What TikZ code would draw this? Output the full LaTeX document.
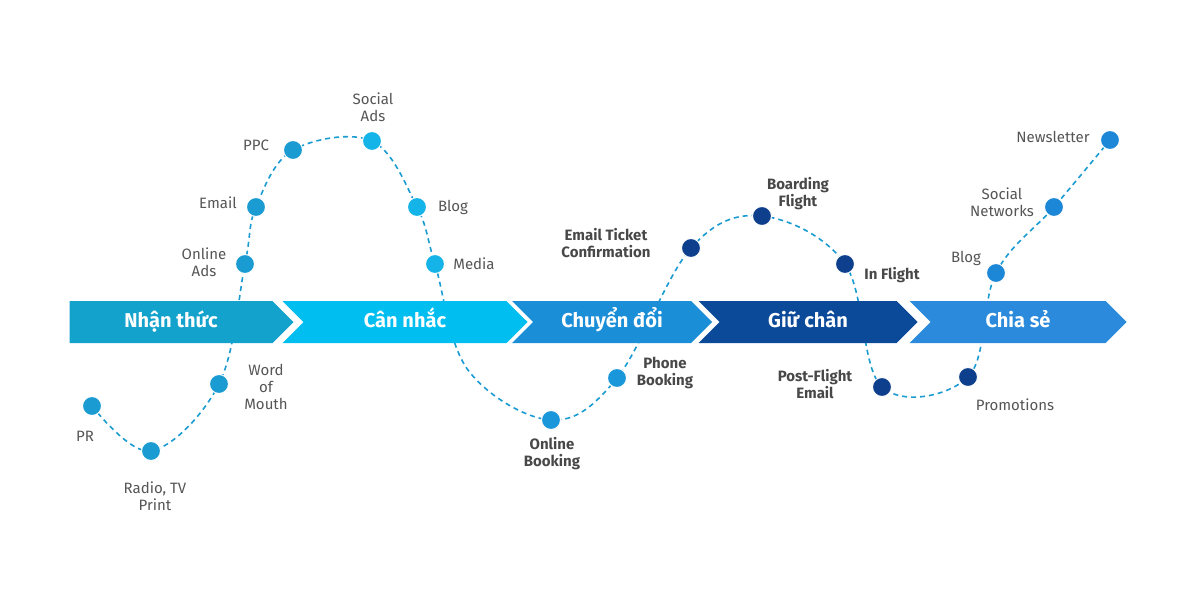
\documentclass[tikz,border=0pt]{standalone}
\usepackage{fontspec}
\setmainfont{Fira Sans}
\usetikzlibrary{shapes.symbols}
\definecolor{stageA}{HTML}{12A2CC}
\definecolor{stageB}{HTML}{00BEEF}
\definecolor{stageC}{HTML}{1B8ED8}
\definecolor{stageD}{HTML}{0B4A99}
\definecolor{stageE}{HTML}{2B8ADB}
\definecolor{dotA}{HTML}{1A9BD1}
\definecolor{dotB}{HTML}{14B4E8}
\definecolor{dotC}{HTML}{1A97DA}
\definecolor{dotD}{HTML}{0E3F8C}
\definecolor{dotE}{HTML}{1C87D6}
\definecolor{labelgrey}{HTML}{555555}
\tikzset{
  every stage/.style={shape=signal, signal to=east, signal pointer angle=90,
    minimum height=42pt, inner sep=0pt, text=white, text height=14pt, text depth=4pt,
    font=\fontsize{20}{22}\selectfont\bfseries},
  dot/.style={circle, minimum size=19pt, inner sep=0pt, draw=white, line width=1pt},
  lbl/.style={text=labelgrey, align=center, font=\fontsize{15}{17}\selectfont},
  blbl/.style={text=labelgrey!85!black, align=center, font=\fontsize{15}{17}\selectfont\bfseries},
}
\begin{document}
\begin{tikzpicture}[x=1pt, y=-1pt]
\useasboundingbox (0,0) rectangle (1200,600);

% touch points
\foreach \n/\px/\py in {pr/92/406, radio/151/451, word/219/384,
  ads/245/264, email/256/207, ppc/293/150, social/372/141,
  blog/417/207, media/435/264, online/551/420, phone/617/378,
  ticket/691/248, boarding/762/216, inflight/845/264,
  post/882/387, promo/968/377, blogb/996/273,
  networks/1054/207, news/1110/140}
\coordinate (\n) at (\px,\py);
\coordinate (dip) at (468,370);

% path
\draw [dotA, line width=1.6pt, dash pattern=on 5pt off 4pt]
  plot [smooth, tension=0.6] coordinates {(pr) (radio) (word) (ads) (email) (ppc)
  (social) (blog) (media) (dip) (online) (phone) (ticket) (boarding) (inflight)
  (post) (promo) (blogb) (networks) (news)};

% stages
\node [every stage, signal from=nowhere, fill=stageA, minimum width=224pt] (s1) at (171,322) {Nhận thức};
\node [every stage, signal from=west, fill=stageB, minimum width=245pt] (s2) at (405,322) {Cân nhắc};
\node [every stage, signal from=west, fill=stageC, minimum width=200pt] (s3) at (612,322) {Chuyển đổi};
\node [every stage, signal from=west, fill=stageD, minimum width=219pt] (s4) at (808,322) {Giữ chân};
\node [every stage, signal from=west, fill=stageE, minimum width=217pt] (s5) at (1018,322) {Chia sẻ};

% dots
\foreach \n/\c in {pr/dotA, radio/dotA, word/dotA, ads/dotA, email/dotA, ppc/dotA,
  social/dotB, blog/dotB, media/dotB, online/dotC, phone/dotC, ticket/dotD,
  boarding/dotD, inflight/dotD, post/dotD, promo/dotD, blogb/dotE,
  networks/dotE, news/dotE}
\node [dot, fill=\c] (\n-dot) at (\n) {};

% labels
\node [lbl] at (85,436) {PR};
\node [lbl] at (155,496) {Radio, TV\\Print};
\node [lbl] at (266,387) {Word\\of\\Mouth};
\node [lbl] at (204,262) {Online\\Ads};
\node [lbl] at (218,203) {Email};
\node [lbl] at (256,145) {PPC};
\node [lbl] at (373,107) {Social\\Ads};
\node [lbl] at (453,207) {Blog};
\node [lbl] at (474,264) {Media};
\node [blbl] at (552,454) {Online\\Booking};
\node [blbl] at (665,373) {Phone\\Booking};
\node [blbl] at (606,243) {Email Ticket\\Confirmation};
\node [blbl] at (798,194) {Boarding\\Flight};
\node [blbl] at (892,275) {In Flight};
\node [blbl] at (815,384) {Post-Flight\\Email};
\node [lbl] at (1015,405) {Promotions};
\node [lbl] at (966,258) {Blog};
\node [lbl] at (1002,202) {Social\\Networks};
\node [lbl] at (1053,137) {Newsletter};
\end{tikzpicture}
\end{document}
